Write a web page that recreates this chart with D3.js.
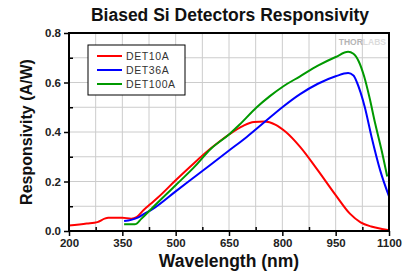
<!DOCTYPE html>
<html lang="en">
<head>
<meta charset="UTF-8">
<title>Biased Si Detectors Responsivity</title>
<script src="https://cdnjs.cloudflare.com/ajax/libs/d3/7.8.5/d3.min.js"></script>
<style>
    body { margin: 0; padding: 0; background: #fff; }
    svg { display: block; font-family: "Liberation Sans", Arial, sans-serif; }
</style>
</head>
<body>
<div id="chart"></div>
<script>
// data
const seriesNames = ["DET10A", "DET36A", "DET100A"];
const seriesColors = ["#ff0000", "#0000ff", "#009900"];

const det10aNm   = [200, 250, 280, 300, 310, 350, 375, 390, 410, 430, 450, 500, 550, 600, 650, 690, 720, 750, 780, 810, 850, 900, 950, 990, 1020, 1050, 1080, 1100];
const det10aResp = [0.022, 0.030, 0.036, 0.050, 0.054, 0.054, 0.050, 0.056, 0.085, 0.110, 0.135, 0.205, 0.272, 0.335, 0.390, 0.425, 0.440, 0.442, 0.430, 0.400, 0.340, 0.245, 0.145, 0.070, 0.035, 0.018, 0.008, 0.003];

const det36aNm   = [355, 375, 395, 410, 437, 500, 550, 600, 650, 700, 750, 800, 850, 900, 950, 985, 1000, 1010, 1020, 1032, 1051, 1075, 1100];
const det36aResp = [0.040, 0.045, 0.055, 0.068, 0.090, 0.160, 0.215, 0.270, 0.325, 0.380, 0.440, 0.500, 0.553, 0.595, 0.625, 0.638, 0.628, 0.600, 0.560, 0.500, 0.380, 0.246, 0.140];

const det100aNm   = [355, 385, 404, 432, 500, 550, 600, 650, 680, 728, 765, 800, 850, 900, 950, 985, 1000, 1015, 1030, 1045, 1061, 1079, 1095];
const det100aResp = [0.027, 0.027, 0.050, 0.090, 0.185, 0.255, 0.333, 0.390, 0.430, 0.500, 0.545, 0.582, 0.625, 0.668, 0.703, 0.724, 0.716, 0.685, 0.625, 0.540, 0.435, 0.327, 0.220];

const xTicks = [200, 350, 500, 650, 800, 950, 1100];
const xMinor = [275, 425, 575, 725, 875, 1025];
const yTicks = [0, 0.2, 0.4, 0.6, 0.8];
const yMinor = [0.1, 0.3, 0.5, 0.7];

const width = 412, height = 272;
const margin = { top: 33, right: 23, bottom: 41, left: 69 };
const w = width - margin.left - margin.right;
const h = height - margin.top - margin.bottom;

const svg = d3.select("#chart").append("svg")
    .attr("width", width)
    .attr("height", height);

const x = d3.scaleLinear().domain([200, 1100]).range([0, w]);
const y = d3.scaleLinear().domain([0, 0.8]).range([h, 0]);

const g = svg.append("g").attr("transform", `translate(${margin.left},${margin.top})`);

// grid
g.append("g").selectAll("line")
    .data(d3.range(200, 1101, 75))
    .join("line")
    .attr("x1", d => x(d)).attr("x2", d => x(d))
    .attr("y1", 0).attr("y2", h)
    .attr("stroke", "#cccccc").attr("stroke-width", 1);
g.append("g").selectAll("line")
    .data(d3.range(0, 9).map(i => i / 10))
    .join("line")
    .attr("x1", 0).attr("x2", w)
    .attr("y1", d => y(d)).attr("y2", d => y(d))
    .attr("stroke", "#cccccc").attr("stroke-width", 1);

// watermark
const wm = g.append("text")
    .attr("x", w - 3).attr("y", 12)
    .attr("text-anchor", "end")
    .style("font-size", "8.5px").style("font-weight", "bold");
wm.append("tspan").attr("fill", "#b5b5b5").text("THOR");
wm.append("tspan").attr("fill", "#dcdcdc").text("LABS");

// curves
const line = d3.line()
    .x(d => x(d[0]))
    .y(d => y(d[1]))
    .curve(d3.curveMonotoneX);

const series = [
    d3.zip(det10aNm, det10aResp),
    d3.zip(det36aNm, det36aResp),
    d3.zip(det100aNm, det100aResp)
];

g.selectAll("path.curve")
    .data(series)
    .join("path")
    .attr("class", "curve")
    .attr("d", line)
    .attr("fill", "none")
    .attr("stroke", (d, i) => seriesColors[i])
    .attr("stroke-width", 2);

// frame
g.append("rect")
    .attr("width", w).attr("height", h)
    .attr("fill", "none")
    .attr("stroke", "#000").attr("stroke-width", 2);

// axes
const xAxis = g.append("g")
    .attr("transform", `translate(0,${h})`)
    .call(d3.axisBottom(x).tickValues(xTicks).tickSize(5).tickPadding(3).tickFormat(d3.format("d")));
const xMin = g.append("g")
    .attr("transform", `translate(0,${h})`)
    .call(d3.axisBottom(x).tickValues(xMinor).tickSize(-4).tickFormat(""));
const yAxis = g.append("g")
    .call(d3.axisLeft(y).tickValues(yTicks).tickSize(5).tickPadding(3).tickFormat(d3.format(".1f")));
const yMin = g.append("g")
    .call(d3.axisLeft(y).tickValues(yMinor).tickSize(-4).tickFormat(""));

[xAxis, xMin, yAxis, yMin].forEach(a => {
    a.select(".domain").remove();
    a.selectAll(".tick line").attr("stroke", "#000").attr("stroke-width", 1.5);
    a.selectAll("text")
        .attr("fill", "#222")
        .style("font-size", "11.5px")
        .style("font-weight", "bold")
        .style("font-family", "'Liberation Sans', Arial, sans-serif");
});

// legend
const legend = g.append("g").attr("transform", "translate(19,12)");
legend.append("rect")
    .attr("width", 97).attr("height", 50)
    .attr("fill", "#fff")
    .attr("stroke", "#000").attr("stroke-width", 1);
seriesNames.forEach((name, i) => {
    const row = legend.append("g").attr("transform", `translate(9,${11 + i * 14})`);
    row.append("line")
        .attr("x1", 0).attr("x2", 25)
        .attr("stroke", seriesColors[i]).attr("stroke-width", 2);
    row.append("text")
        .attr("x", 29).attr("y", 4)
        .attr("fill", "#333")
        .style("font-size", "10.5px")
        .style("letter-spacing", "0.6px")
        .text(name);
});

// titles
svg.append("text")
    .attr("x", 230).attr("y", 21)
    .attr("text-anchor", "middle")
    .style("font-size", "17.5px").style("font-weight", "bold")
    .attr("fill", "#111")
    .text("Biased Si Detectors Responsivity");

svg.append("text")
    .attr("x", 229).attr("y", 267)
    .attr("text-anchor", "middle")
    .style("font-size", "17.5px").style("font-weight", "bold")
    .attr("fill", "#111")
    .text("Wavelength (nm)");

svg.append("text")
    .attr("transform", `translate(32,${margin.top + h / 2}) rotate(-90)`)
    .attr("text-anchor", "middle")
    .style("font-size", "16px").style("font-weight", "bold")
    .attr("fill", "#111")
    .text("Responsivity (A/W)");
</script>
</body>
</html>
